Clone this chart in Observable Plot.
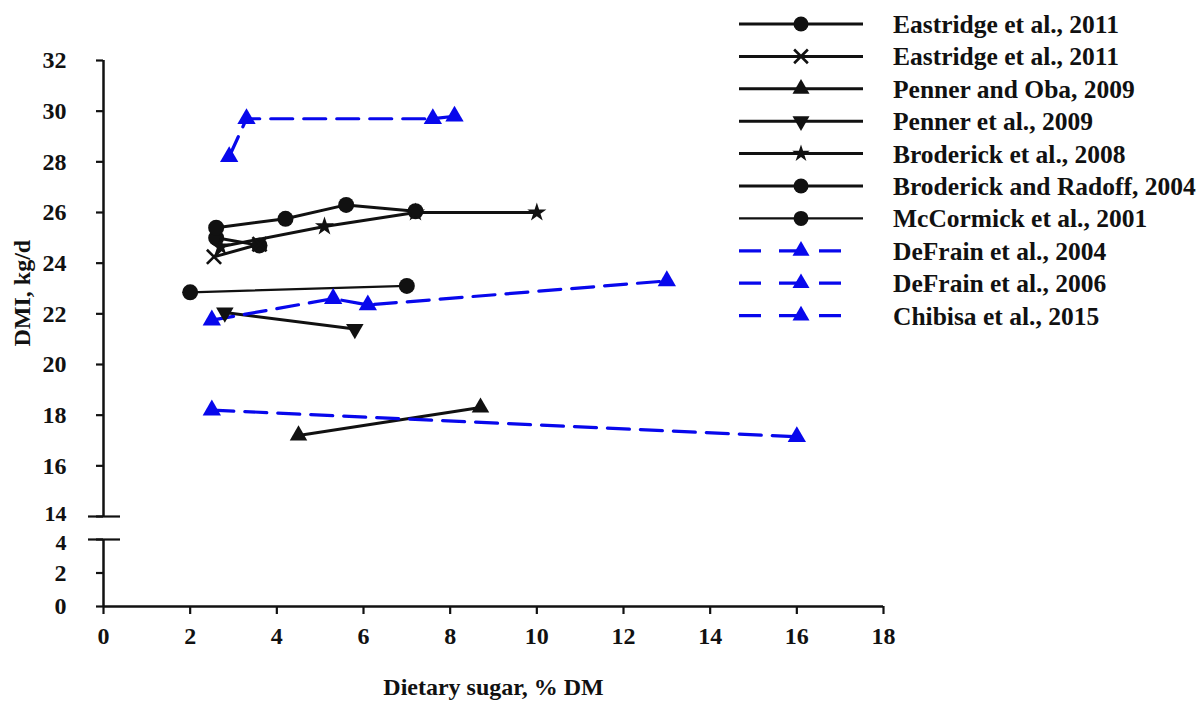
<!DOCTYPE html>
<html>
<head>
<meta charset="utf-8">
<script src="https://cdn.jsdelivr.net/npm/d3@7"></script>
<script src="https://cdn.jsdelivr.net/npm/@observablehq/plot@0.6"></script>
<style>
  html, body { margin: 0; padding: 0; background: #fff; }
  #wrap { position: relative; width: 1202px; height: 704px; overflow: hidden; }
  #legend { position: absolute; left: 0; top: 0; }
</style>
</head>
<body>
<div id="wrap"></div>
<script>
// ---- data ----
const xTicks = [0, 2, 4, 6, 8, 10, 12, 14, 16, 18];
const yTicks = [0, 2, 4, 14, 16, 18, 20, 22, 24, 26, 28, 30, 32];
const breakTicks = [4, 14];
const axisSegments = [{lo: 0, hi: 4}, {lo: 14, hi: 32}];

const seriesNames = [
  "Eastridge et al., 2011",
  "Eastridge et al., 2011",
  "Penner and Oba, 2009",
  "Penner et al., 2009",
  "Broderick et al., 2008",
  "Broderick and Radoff, 2004",
  "McCormick et al., 2001",
  "DeFrain et al., 2004",
  "DeFrain et al., 2006",
  "Chibisa et al., 2015"
];
const eastridgeCircle = [[2.6, 25.0], [3.6, 24.7]];
const eastridgeCross = [[2.55, 24.25], [3.6, 24.75]];
const pennerOba = [[4.5, 17.2], [8.7, 18.3]];
const pennerEtAl = [[2.8, 22.05], [5.8, 21.4]];
const broderick2008 = [[2.7, 24.65], [5.1, 25.45], [7.2, 26.0], [10.0, 26.0]];
const broderickRadoff = [[2.6, 25.4], [4.2, 25.75], [5.6, 26.3], [7.2, 26.05]];
const mcCormick = [[2.0, 22.85], [7.0, 23.1]];
const deFrain2004 = [[2.5, 18.2], [16.0, 17.15]];
const deFrain2006 = [[2.5, 21.75], [5.3, 22.6], [6.1, 22.35], [13.0, 23.3]];
const chibisa2015 = [[2.9, 28.2], [3.3, 29.7], [7.6, 29.7], [8.1, 29.8]];

const seriesData = [eastridgeCircle, eastridgeCross, pennerOba, pennerEtAl, broderick2008,
  broderickRadoff, mcCormick, deFrain2004, deFrain2006, chibisa2015];

// ---- styles (per series) ----
const BLUE = "#0808ec";
const styles = [
  {kind: "black", symbol: "circle"},
  {kind: "black", symbol: "times"},
  {kind: "black", symbol: "triangle"},
  {kind: "black", symbol: "triangleDown"},
  {kind: "black", symbol: "star"},
  {kind: "black", symbol: "circle"},
  {kind: "thin", symbol: "circle"},
  {kind: "blue", symbol: "triangle"},
  {kind: "blue", symbol: "triangle"},
  {kind: "blue", symbol: "triangle"}
];

const rows = [];
seriesData.forEach((pts, i) => pts.forEach(([x, y]) => rows.push({s: i, x, y, kind: styles[i].kind, symbol: styles[i].symbol})));

const font = "'Liberation Serif', 'Times New Roman', serif";
const dash = "22,11";

const chart = Plot.plot({
  width: 1202,
  height: 704,
  marginLeft: 103,
  marginRight: 319,
  marginTop: 60,
  marginBottom: 98,
  style: {fontFamily: font, fontWeight: "bold", fontSize: "24px", color: "#111", background: "white", overflow: "visible"},
  x: {domain: [0, 18]},
  y: {type: "linear", domain: [0, 4, 14, 32], range: [606, 539, 516, 60]},
  marks: [
    // axes
    Plot.ruleY([0], {stroke: "#111", strokeWidth: 2.5}),
    Plot.ruleX(axisSegments, {x: () => 0, y1: "lo", y2: "hi", stroke: "#111", strokeWidth: 2.5}),
    Plot.axisX(xTicks, {tickSize: 8, tickPadding: 12, strokeWidth: 2.2, label: null, fontSize: 24, tickFormat: d => String(d)}),
    Plot.axisY(yTicks, {tickSize: 7, tickPadding: 30, strokeWidth: 2.2, label: null, fontSize: 24,
      tickFormat: d => breakTicks.includes(d) ? "" : String(d)}),
    Plot.axisY(breakTicks, {tickSize: 32, dx: 17, strokeWidth: 2.2, label: null, tickFormat: () => ""}),
    Plot.axisY([breakTicks[1]], {tickSize: 0, tickPadding: 37, dy: -3, fontSize: 22, label: null, tickFormat: d => String(d)}),
    Plot.axisY([breakTicks[0]], {tickSize: 0, tickPadding: 37, dy: 3, fontSize: 22, label: null, tickFormat: d => String(d)}),
    Plot.text(["Dietary sugar, % DM"], {frameAnchor: "bottom", dy: 88, fontSize: 24, fontWeight: "bold", fill: "#111"}),
    Plot.text(["DMI, kg/d"], {frameAnchor: "left", rotate: -90, dx: -81, dy: 13, fontSize: 24, fontWeight: "bold", fill: "#111"}),
    // lines
    Plot.line(rows.filter(d => d.kind === "black"), {x: "x", y: "y", z: "s", stroke: "#111", strokeWidth: 3}),
    Plot.line(rows.filter(d => d.kind === "thin"), {x: "x", y: "y", z: "s", stroke: "#111", strokeWidth: 2.2}),
    Plot.line(rows.filter(d => d.kind === "blue"), {x: "x", y: "y", z: "s", stroke: BLUE, strokeWidth: 3.2, strokeDasharray: dash}),
    // markers
    Plot.dot(rows.filter(d => d.symbol === "circle"), {x: "x", y: "y", symbol: "circle", r: 8, fill: "#111"}),
    Plot.dot(rows.filter(d => d.symbol === "times"), {x: "x", y: "y", symbol: "times", r: 6.5, stroke: "#111", strokeWidth: 2.6}),
    Plot.dot(rows.filter(d => d.symbol === "star"), {x: "x", y: "y", symbol: "star", r: 6, fill: "#111"}),
    Plot.dot(rows.filter(d => d.symbol === "triangle" && d.kind !== "blue"), {x: "x", y: "y", symbol: "triangle", r: 6.5, fill: "#111"}),
    Plot.dot(rows.filter(d => d.symbol === "triangleDown"), {x: "x", y: "y", symbol: "triangle", rotate: 180, r: 6.5, fill: "#111"}),
    Plot.dot(rows.filter(d => d.kind === "blue"), {x: "x", y: "y", symbol: "triangle", r: 6.8, fill: BLUE})
  ]
});
document.getElementById("wrap").appendChild(chart);

// ---- legend (top right) ----
const lg = d3.select("#wrap").append("svg")
  .attr("id", "legend").attr("width", 1202).attr("height", 340)
  .style("font-family", font).style("font-weight", "bold");
const rowY = i => 24 + i * 32.4;
const symMap = {circle: d3.symbolCircle, times: d3.symbolTimes, triangle: d3.symbolTriangle, triangleDown: d3.symbolTriangle, star: d3.symbolStar};
seriesNames.forEach((name, i) => {
  const st = styles[i];
  const g = lg.append("g").attr("transform", `translate(0,${rowY(i)})`);
  if (st.kind === "blue") {
    g.append("line").attr("x1", 739).attr("x2", 851).attr("y1", 0).attr("y2", 0)
      .attr("stroke", BLUE).attr("stroke-width", 3.2).attr("stroke-dasharray", "22,18");
  } else {
    g.append("line").attr("x1", 739).attr("x2", 863).attr("y1", 0).attr("y2", 0)
      .attr("stroke", "#111").attr("stroke-width", st.kind === "thin" ? 2.2 : 3);
  }
  const r = st.symbol === "circle" ? 7.5 : st.symbol === "star" ? 5.5 : 6.3;
  const p = g.append("path")
    .attr("d", d3.symbol(symMap[st.symbol], Math.PI * r * r)())
    .attr("transform", `translate(801,0)${st.symbol === "triangleDown" ? " rotate(180)" : ""}`);
  if (st.symbol === "times") p.attr("fill", "none").attr("stroke", "#111").attr("stroke-width", 2.6);
  else p.attr("fill", st.kind === "blue" ? BLUE : "#111");
  g.append("text").attr("x", 893).attr("y", 0).attr("dy", "0.35em")
    .attr("font-size", 25.5).attr("fill", "#111").text(name);
});
</script>
</body>
</html>
